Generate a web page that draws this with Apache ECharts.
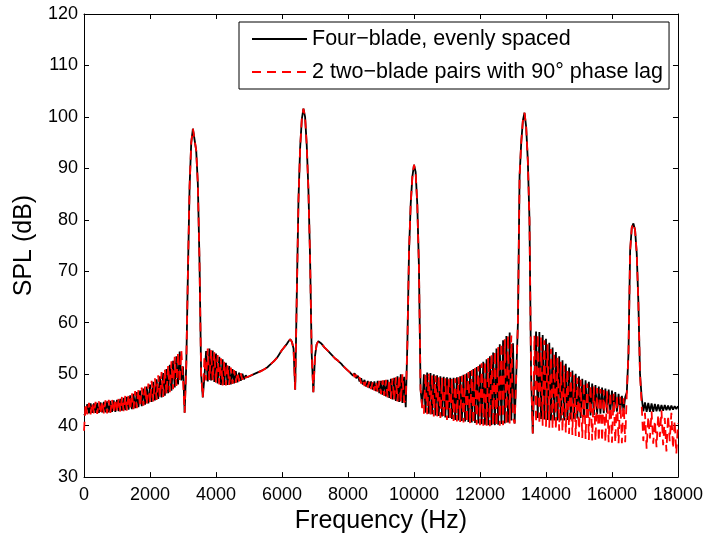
<!DOCTYPE html>
<html>
<head>
<meta charset="utf-8">
<script src="https://cdn.jsdelivr.net/npm/echarts@6/dist/echarts.min.js"></script>
<style>
html,body{margin:0;padding:0;background:#fff;}
#chart{width:706px;height:539px;}
</style>
</head>
<body>
<div id="chart"></div>
<script>
// Frequency grid (Hz)
const freq = [
0,50,100,150,200,250,300,350,400,450,500,550,600,650,700,750,800,850,900,950,
1000,1050,1100,1150,1200,1250,1300,1350,1400,1450,1500,1550,1600,1650,1700,1750,1800,1850,1900,1950,
2000,2050,2100,2150,2200,2250,2300,2350,2400,2450,2500,2550,2600,2650,2700,2750,2800,2850,2900,2950,
3000,3050,3100,3150,3200,3250,3300,3350,3400,3450,3500,3550,3600,3650,3700,3750,3800,3850,3900,3950,
4000,4050,4100,4150,4200,4250,4300,4350,4400,4450,4500,4550,4600,4650,4700,4750,4800,4850,4900,4950,
5000,5050,5100,5150,5200,5250,5300,5350,5400,5450,5500,5550,5600,5650,5700,5750,5800,5850,5900,5950,
6000,6050,6100,6150,6200,6250,6300,6350,6400,6450,6500,6550,6600,6650,6700,6750,6800,6850,6900,6950,
7000,7050,7100,7150,7200,7250,7300,7350,7400,7450,7500,7550,7600,7650,7700,7750,7800,7850,7900,7950,
8000,8050,8100,8150,8200,8250,8300,8350,8400,8450,8500,8550,8600,8650,8700,8750,8800,8850,8900,8950,
9000,9050,9100,9150,9200,9250,9300,9350,9400,9450,9500,9550,9600,9650,9700,9750,9800,9850,9900,9950,
10000,10050,10100,10150,10200,10250,10300,10350,10400,10450,10500,10550,10600,10650,10700,10750,10800,10850,10900,10950,
11000,11050,11100,11150,11200,11250,11300,11350,11400,11450,11500,11550,11600,11650,11700,11750,11800,11850,11900,11950,
12000,12050,12100,12150,12200,12250,12300,12350,12400,12450,12500,12550,12600,12650,12700,12750,12800,12850,12900,12950,
13000,13050,13100,13150,13200,13250,13300,13350,13400,13450,13500,13550,13600,13650,13700,13750,13800,13850,13900,13950,
14000,14050,14100,14150,14200,14250,14300,14350,14400,14450,14500,14550,14600,14650,14700,14750,14800,14850,14900,14950,
15000,15050,15100,15150,15200,15250,15300,15350,15400,15450,15500,15550,15600,15650,15700,15750,15800,15850,15900,15950,
16000,16050,16100,16150,16200,16250,16300,16350,16400,16450,16500,16550,16600,16650,16700,16750,16800,16850,16900,16950,
17000,17050,17100,17150,17200,17250,17300,17350,17400,17450,17500,17550,17600,17650,17700,17750,17800,17850,17900,17950,
18000
];

// Four-blade, evenly spaced (dB)
const splFourBlade = [
42.0,42.4,44.2,42.4,44.3,42.5,44.3,42.5,44.4,42.5,44.5,42.6,44.6,42.6,44.7,42.6,44.8,42.7,44.9,42.7,
45.0,42.8,45.2,42.9,45.4,43.0,45.6,43.1,45.9,43.2,46.2,43.4,46.5,43.6,46.8,43.8,47.2,44.1,47.6,44.3,
48.0,44.6,48.5,44.9,49.0,45.2,49.6,45.5,50.2,45.8,51.0,46.3,51.8,46.8,52.6,47.4,53.5,48.0,54.4,48.8,
51.5,42.5,52,70,86.5,95,97.7,97.8,93.5,87,72,50,45.5,49.5,54.5,48.6,55.0,48.8,54.6,48.5,
54.0,48.2,53.4,47.9,52.9,47.9,52.2,47.9,51.6,48.0,51.0,48.2,50.6,48.4,50.3,48.7,50.1,49.0,49.8,49.4,
49.6,49.7,49.9,50.0,50.1,50.3,50.4,50.6,50.7,50.9,51.1,51.3,51.6,51.9,52.2,52.5,52.8,53.2,53.7,54.2,
54.7,55.1,55.5,55.9,56.4,56.8,56.3,55.0,47.0,66,84,94,99.5,101.6,100,94.5,86,73,54,46.5,
53.5,55.8,56.4,56.3,55.9,55.5,55.1,54.8,54.5,54.2,53.8,53.5,53.1,52.8,52.6,52.3,52.0,51.6,51.3,51.0,
50.7,50.4,50.6,49.7,50.2,49.2,49.7,48.6,49.2,48.0,48.9,47.6,48.7,47.3,48.6,47.0,48.6,46.7,48.7,46.3,
48.7,46.0,48.8,45.7,48.9,45.4,49.1,45.1,49.3,44.8,49.6,44.6,50.0,44.4,49.5,43.6,56,74,83,88.3,
90.7,89.3,83,71,47,43.5,50.0,42.5,50.3,42.3,50.2,42.2,50.0,42.0,49.8,41.9,49.6,41.8,49.5,41.6,
49.4,41.5,49.3,41.3,49.3,41.1,49.4,41.0,49.6,40.9,49.9,40.8,50.2,40.7,50.6,40.6,51.0,40.5,51.4,40.4,
51.9,40.3,52.4,40.2,52.9,40.1,53.5,40.1,54.2,40.1,55.0,40.2,55.8,40.3,56.6,40.4,57.4,40.6,58.1,41.0,
56.0,40.4,50,60,88.5,95,99.3,100.8,98,91.5,80,49.3,38.5,50,58.3,41.5,58.2,41.3,57.6,41.2,
56.9,41.1,56.1,41.0,55.2,41.0,54.3,41.0,53.5,41.0,52.7,41.0,52.0,41.1,51.3,41.2,50.7,41.3,50.1,41.4,
49.6,41.5,49.1,41.7,48.8,41.8,48.5,42.0,48.2,42.1,47.9,42.2,47.6,42.3,47.4,42.4,47.2,42.5,47.0,42.6,
46.8,42.6,46.5,42.7,46.2,42.7,45.8,42.8,45.5,46.5,54,74,78.5,79.3,78,73.5,64,50,45.5,42.8,
44.5,42.7,44.4,42.7,44.3,42.7,44.2,42.8,44.1,42.8,44.0,42.9,44.0,43.0,43.9,43.0,43.9,43.1,43.8,43.2,
43.8
];

// 2 two-blade pairs with 90 deg phase lag (dB)
const splTwoPairs = [
39.0,44.3,42.2,44.4,42.2,44.5,42.3,44.6,42.3,44.7,42.3,44.8,42.4,44.9,42.4,45.0,42.5,45.1,42.5,45.2,
42.6,45.4,42.7,45.6,42.8,45.8,42.9,46.1,43.0,46.4,43.2,46.7,43.4,47.0,43.6,47.4,43.9,47.8,44.1,48.2,
44.4,48.7,44.7,49.2,45.0,49.8,45.3,50.4,45.6,51.0,46.0,51.7,46.5,52.5,47.1,53.4,47.7,54.3,48.3,54.6,
49.0,42.5,52,70,86.5,95,97.7,97.8,93.5,87,72,50,45.5,53.5,48.8,55.0,48.9,54.7,48.7,54.3,
48.3,53.7,48.0,53.1,47.8,52.5,47.8,51.9,47.9,51.3,48.1,50.8,48.3,50.4,48.6,50.2,48.9,49.9,49.3,49.6,
49.6,49.7,49.9,50.0,50.1,50.3,50.4,50.6,50.7,50.9,51.1,51.3,51.6,51.9,52.2,52.5,52.8,53.2,53.7,54.2,
54.7,55.1,55.5,55.9,56.4,56.8,56.3,55.0,47.0,66,84,94,99.5,101.6,100,94.5,86,73,54,46.5,
53.5,55.8,56.4,56.3,55.9,55.5,55.1,54.8,54.5,54.2,53.8,53.5,53.1,52.8,52.6,52.3,52.0,51.6,51.3,51.0,
50.7,50.4,50.0,50.4,49.4,49.9,48.8,49.4,48.2,49.0,47.7,48.8,47.4,48.6,47.1,48.6,46.8,48.6,46.4,48.7,
46.1,48.8,45.8,48.9,45.5,49.0,45.2,49.2,44.9,49.4,44.7,49.8,44.5,50.0,44.5,45.0,56,74,83,88.3,
90.7,89.3,83,71,47,43.5,42.3,50.2,42.2,50.1,42.0,49.9,41.8,49.7,41.6,49.5,41.5,49.3,41.3,49.2,
41.1,49.1,41.0,49.1,40.9,49.2,40.8,49.4,40.7,49.7,40.6,50.0,40.5,50.4,40.4,50.8,40.3,51.2,40.2,51.6,
40.1,52.1,40.0,52.6,40.0,53.2,39.9,53.8,39.9,54.5,39.9,55.3,40.0,56.1,40.1,56.8,40.2,57.6,40.4,57.5,
41.5,40.4,50,60,88.5,95,99.3,100.8,98,91.5,80,49.3,38.5,57.5,40.5,57.8,40.2,57.3,40.0,56.6,
39.8,55.8,39.6,54.9,39.4,54.0,39.2,53.2,39.0,52.4,38.8,51.7,38.6,51.0,38.4,50.4,38.2,49.8,38.0,49.3,
37.8,48.9,37.6,48.5,37.4,48.2,37.2,47.9,37.1,47.6,37.0,47.3,36.9,47.1,36.9,46.9,36.8,46.7,36.8,46.5,
36.7,46.2,36.7,45.9,36.6,45.6,36.6,45.3,36.8,46.5,54,74,78.5,79.3,78,73.5,64,50,44.0,37.0,
42.5,35.5,41.8,37.5,42.8,36.5,41.0,35.8,42.2,37.8,43.0,36.2,41.5,35.0,42.0,37.0,42.5,35.5,41.0,34.5,
40.5
];

const seriesNames = ['Four\u2212blade, evenly spaced', '2 two\u2212blade pairs with 90\u00b0 phase lag'];
const xTitle = 'Frequency (Hz)';
const yTitle = 'SPL (dB)';

const pairs = (ys) => freq.map((f, i) => [f, ys[i]]);

const FONT = 'Liberation Sans, Arial, sans-serif';
const axisCommon = {
  axisLine: { show: true, onZero: false, lineStyle: { color: '#000', width: 1 } },
  axisTick: { show: true, inside: true, length: 5, lineStyle: { color: '#000', width: 1 } },
  splitLine: { show: false }
};

const chart = echarts.init(document.getElementById('chart'), null, { renderer: 'canvas' });
chart.setOption({
  animation: false,
  backgroundColor: '#fff',
  textStyle: { fontFamily: FONT },
  grid: { left: 84, top: 14, right: 26, bottom: 57 },
  legend: {
    orient: 'vertical',
    left: 239, top: 22,
    itemWidth: 55, itemHeight: 20, itemGap: 11,
    padding: [6, 6, 6, 12],
    borderColor: '#000', borderWidth: 1, borderRadius: 0,
    backgroundColor: '#fff',
    itemStyle: { opacity: 0 },
    textStyle: { fontSize: 21.5, color: '#000', fontFamily: FONT },
    data: seriesNames
  },
  xAxis: [
    Object.assign({
      type: 'value', position: 'bottom', min: 0, max: 18000, interval: 2000,
      axisLabel: { fontSize: 18, color: '#000', margin: 9, fontFamily: FONT, formatter: (v) => String(v) },
      name: xTitle, nameLocation: 'middle', nameGap: 30,
      nameTextStyle: { fontSize: 25, color: '#000', fontFamily: FONT }
    }, axisCommon),
    Object.assign({
      type: 'value', position: 'top', min: 0, max: 18000, interval: 2000,
      axisLabel: { show: false }
    }, axisCommon)
  ],
  yAxis: [
    Object.assign({
      type: 'value', position: 'left', min: 30, max: 120, interval: 10,
      axisLabel: { fontSize: 18, color: '#000', margin: 6, fontFamily: FONT, formatter: (v) => String(v) },
      name: yTitle, nameLocation: 'middle', nameGap: 44,
      nameTextStyle: { fontSize: 25, color: '#000', fontFamily: FONT }
    }, axisCommon),
    Object.assign({
      type: 'value', position: 'right', min: 30, max: 120, interval: 10,
      axisLabel: { show: false }
    }, axisCommon)
  ],
  series: [
    {
      name: seriesNames[0], type: 'line', xAxisIndex: 0, yAxisIndex: 0,
      data: pairs(splFourBlade), symbol: 'none', showSymbol: false,
      sampling: null, smooth: false,
      lineStyle: { color: '#000', width: 1.8 },
      itemStyle: { color: '#000' }
    },
    {
      name: seriesNames[1], type: 'line', xAxisIndex: 0, yAxisIndex: 0,
      data: pairs(splTwoPairs), symbol: 'none', showSymbol: false,
      smooth: false,
      lineStyle: { color: '#ff0000', width: 1.8, type: [9, 6] },
      itemStyle: { color: '#ff0000' }
    }
  ]
});
</script>
</body>
</html>
